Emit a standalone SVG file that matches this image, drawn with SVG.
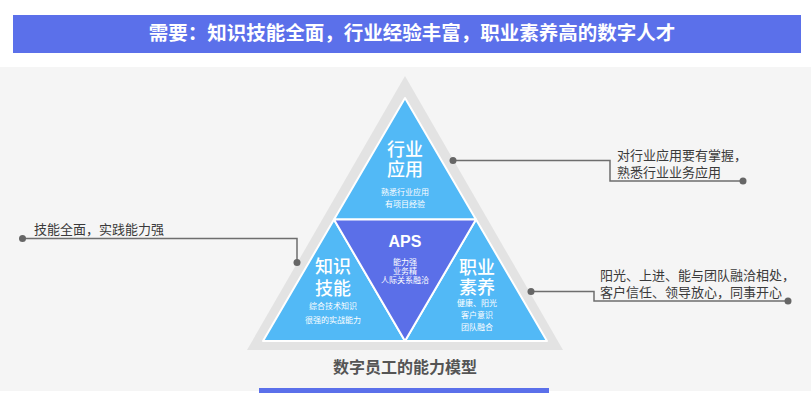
<svg xmlns="http://www.w3.org/2000/svg" width="811" height="405" viewBox="0 0 811 405">
<style>
.t{font-family:"Noto Sans CJK SC","Microsoft YaHei",sans-serif;text-anchor:middle;fill:#fff}
.big{font-size:18px;font-weight:500}
.sm{font-size:8px}
.note{font-family:"Noto Sans CJK SC",sans-serif;font-size:13px;fill:#3a3a3a}
.ln{fill:none;stroke:#6e6e6e;stroke-width:1.5}
.dot{fill:#666}
.blue{fill:#52B9F6;stroke:#fff;stroke-width:2;stroke-linejoin:round}
</style>
<rect x="0" y="0" width="811" height="405" fill="#fff"/>
<rect x="0" y="67" width="811" height="324" fill="#f5f5f5"/>
<g id="title">
<rect x="13" y="15" width="788" height="38" fill="#5B70EA"/>
<text x="412" y="40" class="t" style="font-size:19.5px;font-weight:bold">需要：知识技能全面，行业经验丰富，职业素养高的数字人才</text>
</g>
<g id="pyramid-bg">
<polygon points="405,76 247,350 563,350" fill="#e3e3e3"/>
</g>
<g id="node-industry">
<polygon class="blue" points="405,98 334,219.5 476,219.5"/>
<text class="t big"><tspan x="405" y="156">行业</tspan><tspan x="405" y="176">应用</tspan></text>
<text class="t sm"><tspan x="405" y="194.5">熟悉行业应用</tspan><tspan x="405" y="207">有项目经验</tspan></text>
</g>
<g id="node-skill">
<polygon class="blue" points="334,219.5 263,341 405,341"/>
<text class="t big"><tspan x="333" y="273">知识</tspan><tspan x="333" y="295">技能</tspan></text>
<text class="t sm"><tspan x="333" y="309">综合技术知识</tspan><tspan x="333" y="323">很强的实战能力</tspan></text>
</g>
<g id="node-quality">
<polygon class="blue" points="476,219.5 405,341 547,341"/>
<text class="t big"><tspan x="477" y="274">职业</tspan><tspan x="477" y="294">素养</tspan></text>
<text class="t sm"><tspan x="477" y="306">健康、阳光</tspan><tspan x="477" y="318">客户意识</tspan><tspan x="477" y="330">团队融合</tspan></text>
</g>
<g id="node-aps">
<polygon points="334,219.5 476,219.5 405,341" fill="#5B6FE8" stroke="#fff" stroke-width="2" stroke-linejoin="round"/>
<text x="405" y="246.5" class="t" style="font-family:'Liberation Sans',Arial,sans-serif;font-size:16px;font-weight:bold">APS</text>
<text class="t sm"><tspan x="405" y="264.5">能力强</tspan><tspan x="405" y="273.5">业务精</tspan><tspan x="405" y="283">人际关系融洽</tspan></text>
</g>
<g id="connectors">
<polyline class="ln" points="453,160.5 610,160.5 610,181 743,181"/>
<circle class="dot" cx="453" cy="160.5" r="3.5"/>
<circle class="dot" cx="743" cy="181" r="3.5"/>
<polyline class="ln" points="531,291.5 594,291.5 594,301 788,301"/>
<circle class="dot" cx="531" cy="291.5" r="3.5"/>
<circle class="dot" cx="788" cy="301" r="3.5"/>
<polyline class="ln" points="22.5,238.5 297,238.5 297,262.5"/>
<circle class="dot" cx="22.5" cy="238.5" r="3.5"/>
<circle class="dot" cx="297" cy="262.5" r="3.5"/>
</g>
<g id="note-industry">
<text class="note"><tspan x="617" y="160">对行业应用要有掌握，</tspan><tspan x="617" y="177">熟悉行业业务应用</tspan></text>
</g>
<g id="note-quality">
<text class="note"><tspan x="600" y="280">阳光、上进、能与团队融洽相处，</tspan><tspan x="600" y="297">客户信任、领导放心，同事开心</tspan></text>
</g>
<g id="note-skill">
<text x="34" y="234" class="note">技能全面，实践能力强</text>
</g>
<g id="caption">
<text x="405" y="373" class="t" style="font-size:16px;font-weight:bold;fill:#555">数字员工的能力模型</text>
<rect x="259" y="388" width="290" height="5" fill="#5B70EA"/>
</g>
</svg>
